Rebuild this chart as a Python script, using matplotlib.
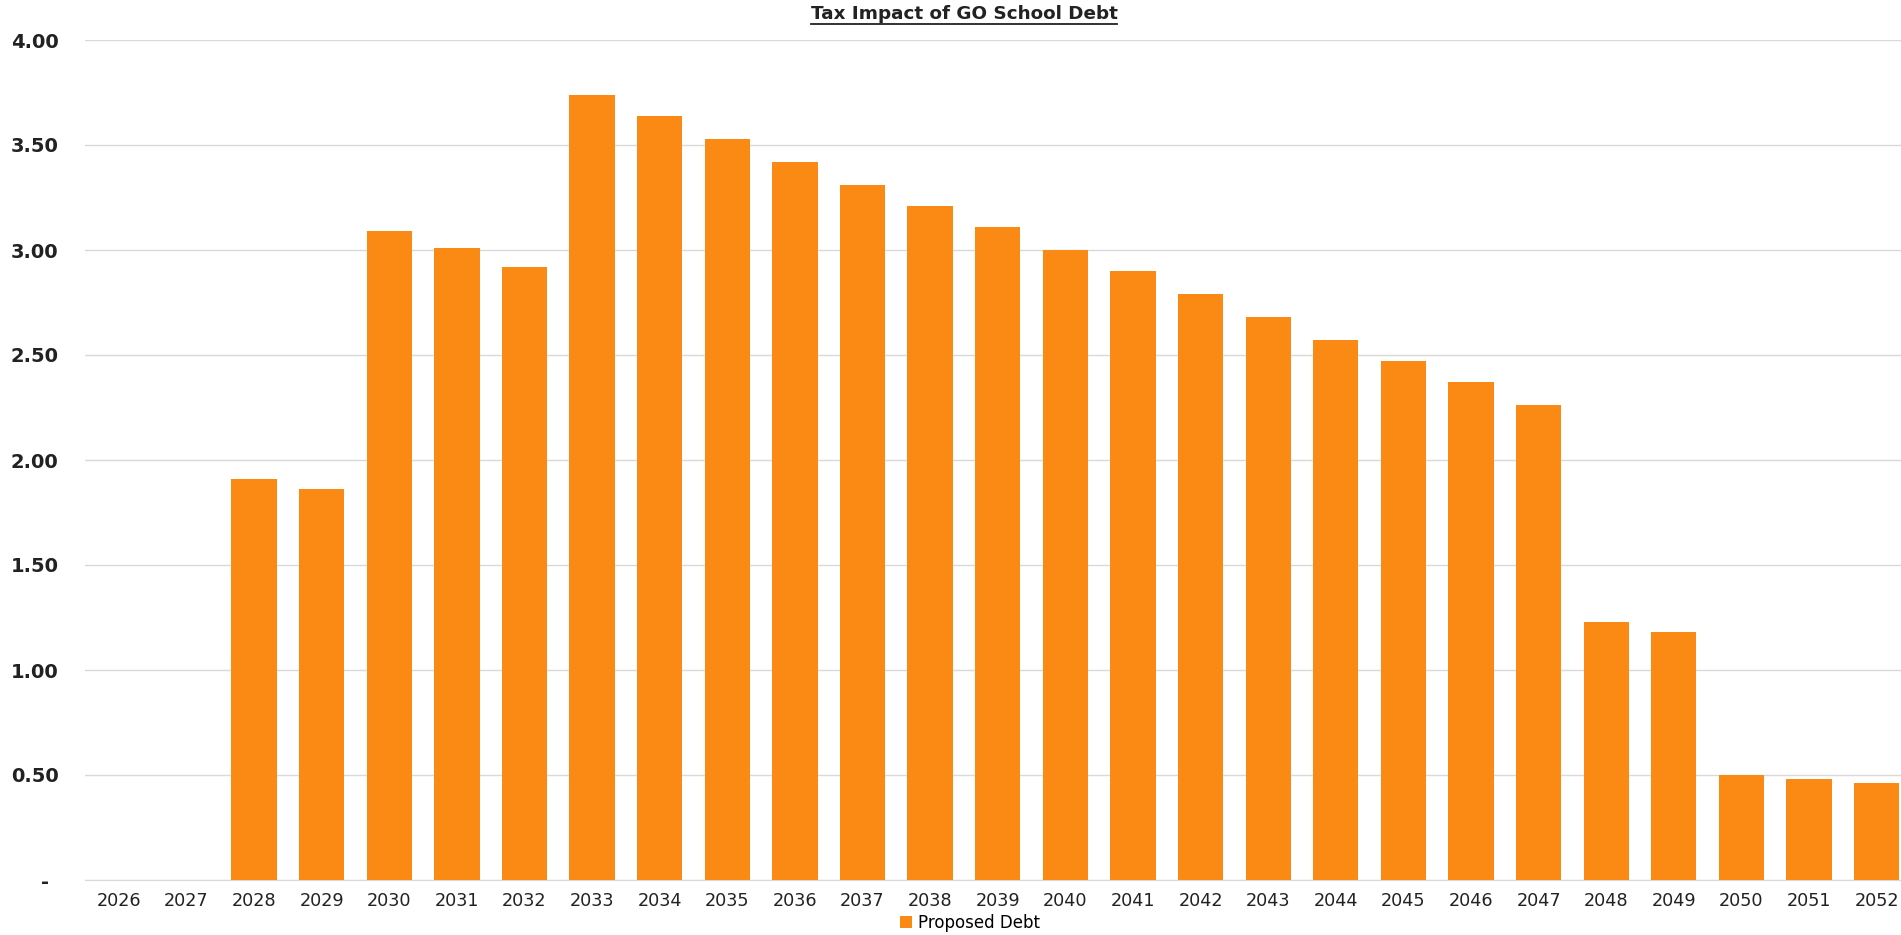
import matplotlib
matplotlib.use('Agg')
import matplotlib.pyplot as plt

years = [str(y) for y in range(2026, 2053)]
proposed_debt = [0, 0, 1.91, 1.86, 3.09, 3.01, 2.92, 3.74, 3.64, 3.53, 3.42, 3.31,
                 3.21, 3.11, 3.00, 2.90, 2.79, 2.68, 2.57, 2.47, 2.37, 2.26, 1.23,
                 1.18, 0.50, 0.48, 0.46]
y_ticks = [0, 0.5, 1.0, 1.5, 2.0, 2.5, 3.0, 3.5, 4.0]

plt.rcParams['font.family'] = ['DejaVu Sans']

fig = plt.figure(figsize=(19.01, 9.35), dpi=100)
ax = fig.add_axes([85 / 1901, 55 / 935, 1816 / 1901, 840 / 935])

x = list(range(len(years)))
ax.bar(x, proposed_debt, width=0.67, color='#FA8A14', label='Proposed Debt', zorder=3)

ax.set_xlim(-0.5, 26.36)
ax.set_ylim(0, 4)
ax.set_yticks(y_ticks)
ax.set_yticklabels(['-\u2002' if v == 0 else '%.2f' % v for v in y_ticks],
                   fontsize=14, fontweight='semibold', color='#222222')
ax.set_xticks(x)
ax.set_xticklabels(years, fontsize=12.7, color='#222222')
ax.tick_params(axis='both', length=0)
ax.tick_params(axis='y', pad=19)
ax.tick_params(axis='x', pad=9)

ax.grid(axis='y', color='#d9d9d9', linewidth=1, zorder=0)
for s in ['top', 'right', 'left']:
    ax.spines[s].set_visible(False)
ax.spines['bottom'].set_color('#d9d9d9')

t = fig.text(964 / 1901, 1 - 14 / 935, 'Tax Impact of GO School Debt', ha='center', va='center',
             fontsize=13.2, fontweight='bold', color='#222222')
# underline for the title
fig.canvas.draw()
bb = t.get_window_extent()
fig.add_artist(plt.Line2D([bb.x0 / 1901, bb.x1 / 1901], [(bb.y0 - 1) / 935] * 2,
                          color='#222222', linewidth=1.3))

fig.legend(loc='center', bbox_to_anchor=(970 / 1901, 1 - 923 / 935), frameon=False,
           fontsize=12, handlelength=0.7, handleheight=0.7, handletextpad=0.4)

fig.savefig('out.png', dpi=100)
